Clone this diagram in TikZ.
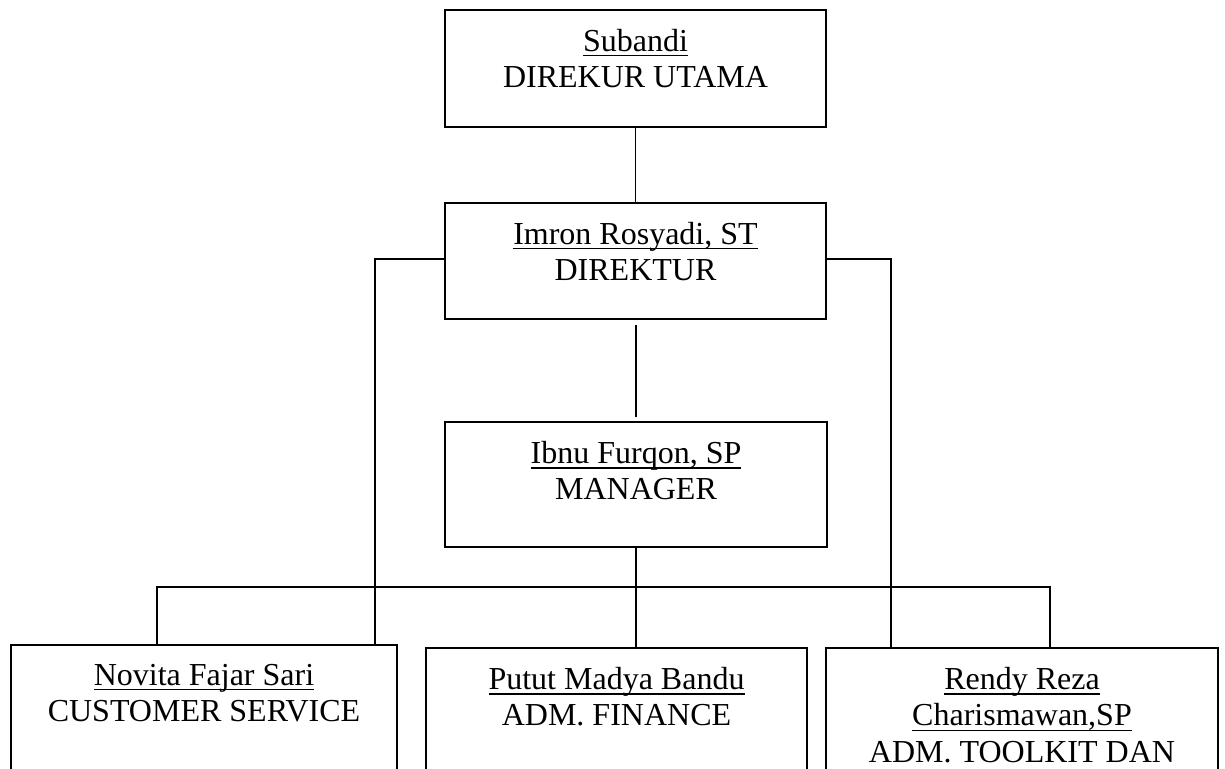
\documentclass[tikz,border=0pt]{standalone}
\usepackage{fontspec}
\setmainfont{Liberation Serif}
\newcommand{\uname}[1]{\leavevmode\setbox0\hbox{#1}\rlap{\rule[-2.7pt]{\wd0}{0.8pt}}\box0}
\begin{document}
\begin{tikzpicture}[x=0.5pt,y=-0.5pt,
  line width=0.9pt,
  box/.style={draw, line width=0.9pt, rectangle, outer sep=0pt, inner sep=0pt},
  lbl/.style={anchor=north, inner sep=0pt, align=center, font=\fontsize{16}{18.3}\selectfont}]
\useasboundingbox (0,0) rectangle (1225,769);
\clip (0,0) rectangle (1225,769);
\node[box, minimum width=190.5pt, minimum height=58.5pt] (top) at (635.5,68.5) {};
\node[box, minimum width=190.5pt, minimum height=58pt] (dir) at (635.5,261) {};
\node[box, minimum width=191pt, minimum height=62.5pt] (mgr) at (636,484.5) {};
\node[box, minimum width=193pt, minimum height=100pt] (cs) at (204,745) {};
\node[box, minimum width=190.5pt, minimum height=100pt] (fin) at (616.5,748) {};
\node[box, minimum width=196pt, minimum height=100pt] (tk) at (1022,748) {};

\node[lbl] (ttop) at ([yshift=-9pt]top.north) {\uname{Subandi}\\DIREKUR UTAMA};
\node[lbl] (tdir) at ([yshift=-9pt]dir.north) {\uname{Imron Rosyadi, ST}\\DIREKTUR};
\node[lbl] (tmgr) at ([yshift=-9pt]mgr.north) {\uname{Ibnu Furqon, SP}\\MANAGER};
\node[lbl] (tcs) at ([yshift=-9pt]cs.north) {\uname{Novita Fajar Sari}\\CUSTOMER SERVICE};
\node[lbl] (tfin) at ([yshift=-9pt]fin.north) {\uname{Putut Madya Bandu}\\ADM. FINANCE};
\node[lbl] (ttk) at ([yshift=-9pt]tk.north) {\uname{Rendy Reza}\\\uname{Charismawan,SP}\\ADM. TOOLKIT DAN};

\coordinate (g1) at (636,325);
\coordinate (g2) at (636,417);
\coordinate (lj) at (375,259);
\coordinate (rj) at (891,259);
\coordinate (bl) at (157,587);
\coordinate (br) at (1050,587);

\draw (top.south) -- (dir.north);
\draw (g1) -- (g2);
\draw (dir.west |- lj) -- (lj) -- (lj |- cs.north);
\draw (dir.east |- rj) -- (rj) -- (rj |- tk.north);
\draw (mgr.south) -- (mgr.south |- fin.north);
\draw (bl |- cs.north) -- (bl) -- (br) -- (br |- tk.north);
\end{tikzpicture}
\end{document}
